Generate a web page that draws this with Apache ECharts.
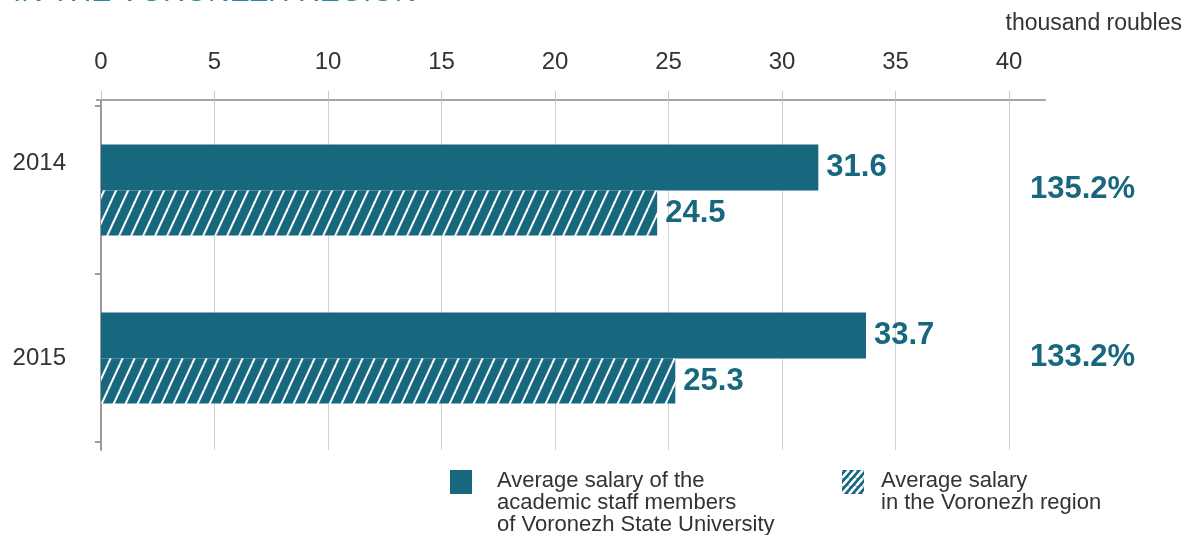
<!DOCTYPE html>
<html><head><meta charset="utf-8">
<script src="https://cdn.jsdelivr.net/npm/echarts@6/dist/echarts.min.js"></script>
<style>html,body{margin:0;padding:0;background:#fff}#c{width:1185px;height:535px}</style>
</head><body><div id="c"></div>
<script>
const years = ['2014', '2015'];
const vsuSalary = [31.6, 33.7];
const regionSalary = [24.5, 25.3];
const ratioLabels = ['135.2%', '133.2%'];
const xMin = 0, xMax = 40, xStep = 5;
const seriesNames = [
  'Average salary of the\nacademic staff members\nof Voronezh State University',
  'Average salary\nin the Voronezh region'
];
const unitText = 'thousand roubles';
const titleText = 'IN THE VORONEZH REGION';

const TEAL = '#17677f';
const FONT = 'Liberation Sans';

function hatch(w, h, lw) {
  const c = document.createElement('canvas');
  c.width = w; c.height = h;
  const g = c.getContext('2d');
  g.fillStyle = TEAL; g.fillRect(0, 0, w, h);
  g.strokeStyle = '#fff'; g.lineWidth = lw;
  for (const dx of [-w, 0, w]) {
    g.beginPath(); g.moveTo(dx, h); g.lineTo(dx + w, 0); g.stroke();
  }
  return c;
}
const barPattern = { image: hatch(12, 26, 2), repeat: 'repeat' };
const legendPattern = { image: hatch(7, 8, 2.6), repeat: 'repeat' };

// legend icon: a 22x24 square at the top of a taller box so it aligns with the first text line
const icon3 = 'path://M0,0L22,0L22,24L0,24Z M0,66L0,66';
const icon2 = 'path://M0,0L22,0L22,24L0,24Z M0,44L0,44';

const chart = echarts.init(document.getElementById('c'), null, { renderer: 'canvas' });

const valueLabel = {
  show: true, position: 'right', distance: 8,
  fontFamily: FONT, fontSize: 31, fontWeight: 'bold', color: TEAL
};

chart.setOption({
  animation: false,
  textStyle: { fontFamily: FONT },
  grid: [
    { left: 101, right: 176, top: 100, bottom: 85 },
    { left: 101, right: 176, top: 106, height: 336 }
  ],
  xAxis: [
    {
      gridIndex: 0, type: 'value', position: 'top', min: xMin, max: xMax, interval: xStep,
      axisLine: { show: false },
      axisTick: { show: true, length: 9, lineStyle: { color: '#c8c8c8', width: 1 } },
      axisLabel: { margin: 26, fontSize: 24, color: '#333', fontFamily: FONT },
      splitLine: { show: true, lineStyle: { color: '#d0d0d0', width: 1 } }
    },
    {
      gridIndex: 1, type: 'value', min: xMin, max: xMax, interval: xStep, show: false
    }
  ],
  yAxis: [
    {
      gridIndex: 0, type: 'category', data: years, inverse: true,
      axisLine: { show: true, lineStyle: { color: '#9a9a9a', width: 2 } },
      axisTick: { show: false }, axisLabel: { show: false }, splitLine: { show: false }
    },
    {
      gridIndex: 1, type: 'category', data: years, inverse: true,
      axisLine: { show: false },
      axisTick: { show: true, length: 6, lineStyle: { color: '#9a9a9a', width: 2 } },
      axisLabel: {
        margin: 35, color: '#333', fontSize: 24, fontFamily: FONT,
        formatter: (v, i) => (i === 0 ? '{u|' + v + '}' : '{d|' + v + '}'),
        rich: {
          u: { fontSize: 24, color: '#333', fontFamily: FONT, padding: [0, 0, 54, 0] },
          d: { fontSize: 24, color: '#333', fontFamily: FONT, padding: [0, 0, 0, 0] }
        }
      }
    }
  ],
  legend: [
    {
      data: [seriesNames[0]], left: 450, top: 470, orient: 'vertical', padding: 0,
      icon: icon3, itemWidth: 22, itemHeight: 66, selectedMode: false,
      textStyle: { fontFamily: FONT, fontSize: 22, lineHeight: 22, color: '#333', padding: [0, 0, 0, 20] }
    },
    {
      data: [{ name: seriesNames[1], itemStyle: { color: legendPattern } }],
      left: 842, top: 470, orient: 'vertical', padding: 0,
      icon: icon2, itemWidth: 22, itemHeight: 44, selectedMode: false,
      textStyle: { fontFamily: FONT, fontSize: 22, lineHeight: 22, color: '#333', padding: [0, 0, 0, 12] }
    }
  ],
  series: [
    {
      name: seriesNames[0], type: 'bar', xAxisIndex: 1, yAxisIndex: 1,
      data: vsuSalary, barWidth: 46, barGap: '0%',
      itemStyle: { color: TEAL }, label: valueLabel
    },
    {
      name: seriesNames[1], type: 'bar', xAxisIndex: 1, yAxisIndex: 1,
      data: regionSalary, barWidth: 45, barGap: '0%',
      itemStyle: { color: barPattern }, label: valueLabel
    }
  ]
});

const x0 = chart.convertToPixel({ xAxisIndex: 0 }, xMin);
const ratioGraphics = ratioLabels.map((t, i) => ({
  type: 'text', left: 1030, top: chart.convertToPixel({ yAxisIndex: 1 }, years[i]) - 16,
  style: { text: t, fontFamily: FONT, fontSize: 31, fontWeight: 'bold', fill: TEAL }
}));

chart.setOption({
  graphic: [
    { type: 'line', shape: { x1: x0 - 5, y1: 100, x2: 1046, y2: 100 },
      style: { stroke: '#a6a6a6', lineWidth: 2 }, silent: true },
    { type: 'text', right: 3, top: 12,
      style: { text: unitText, fontFamily: FONT, fontSize: 23, fill: '#333' } },
    { type: 'text', left: 13, top: -22,
      style: { text: titleText, fontFamily: FONT, fontSize: 30, fill: '#2b88a3' } }
  ].concat(ratioGraphics)
});
</script>
</body></html>
